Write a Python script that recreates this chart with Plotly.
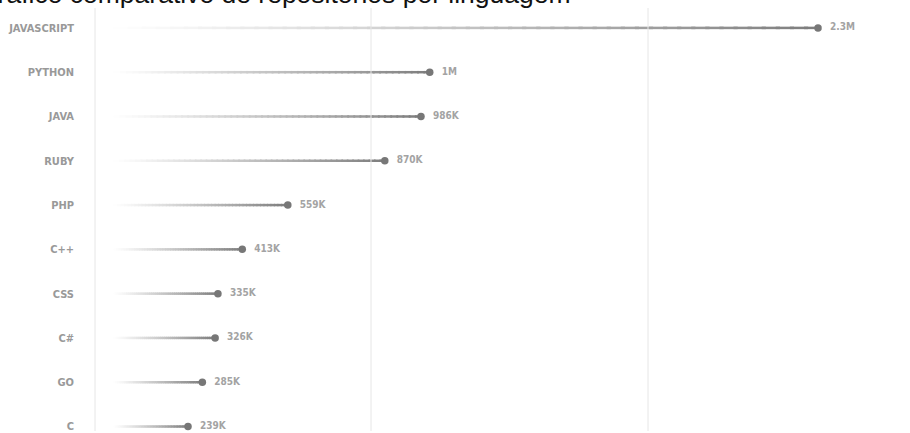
import plotly.graph_objects as go

languages = ["JAVASCRIPT", "PYTHON", "JAVA", "RUBY", "PHP", "C++", "CSS", "C#", "GO", "C"]
repos = [2259000, 1014000, 986000, 870000, 559000, 413000, 335000, 326000, 285000, 239000]
value_labels = ["2.3M", "1M", "986K", "870K", "559K", "413K", "335K", "326K", "285K", "239K"]
title_text = "Gráfico comparativo de repositórios por linguagem"

W, H = 910, 433
ML, MT = 95, 8
x0_px, px_per_unit = 113.45, 0.3119 / 1000
xmin = (ML - x0_px) / px_per_unit
xmax = (W - x0_px) / px_per_unit

LABEL_FONT = "DejaVu Sans Condensed, Liberation Sans Narrow, sans-serif"

fig = go.Figure()

# gradient stems: N segments per stem, colour fading from white to grey
N = 50
end_rgb = (125, 125, 125)
for k in range(N):
    t = (k + 0.5) / N
    a = t ** 1.1
    col = "rgb({},{},{})".format(*[int(round(255 + (c - 255) * a)) for c in end_rgb])
    xs, ys = [], []
    for lang, v in zip(languages, repos):
        xs += [v * k / N, v * (k + 1.3) / N if k < N - 1 else v, None]
        ys += [lang, lang, None]
    fig.add_trace(go.Scatter(x=xs, y=ys, mode="lines", line=dict(color=col, width=2.5),
                             hoverinfo="skip", showlegend=False))

fig.add_trace(go.Scatter(
    x=repos, y=languages, mode="markers+text",
    marker=dict(size=7.5, color="#777777"),
    text=["  " + s for s in value_labels], textposition="middle right",
    textfont=dict(family=LABEL_FONT, size=10, color="#a3a3a3", weight="bold"),
    showlegend=False, cliponaxis=False, hoverinfo="skip",
))

# vertical dividers
plot_w = W - ML
for px in [95, 371, 648]:
    fig.add_shape(type="line", xref="paper", yref="paper",
                  x0=(px - ML) / plot_w, x1=(px - ML) / plot_w, y0=0, y1=1,
                  line=dict(color="#e6e6e6", width=1))

# title (partly cut off at top in the reference)
fig.add_annotation(text=title_text, xref="paper", yref="paper",
                   x=(-25 - ML) / plot_w, y=1 + (MT - 11.5) / (H - MT),
                   xanchor="left", yanchor="bottom", showarrow=False,
                   font=dict(family="Liberation Sans, Arial, sans-serif", size=26.5, color="#111111"))

row_px = 44.5
first_px = 28
fig.update_layout(
    width=W, height=H,
    margin=dict(l=ML, r=0, t=MT, b=0),
    paper_bgcolor="white", plot_bgcolor="white",
    xaxis=dict(range=[xmin, xmax], showgrid=False, zeroline=False, showticklabels=False,
               showline=False, fixedrange=True),
    yaxis=dict(type="category", categoryorder="array", categoryarray=languages,
               range=[9 + (H - (first_px + 9 * row_px)) / row_px, -(first_px - MT) / row_px],
               showgrid=False, zeroline=False, showline=False,
               ticks="", ticklabelstandoff=20,
               tickfont=dict(family=LABEL_FONT, size=11, color="#999999", weight="bold")),
)

fig.write_html("out.html")
